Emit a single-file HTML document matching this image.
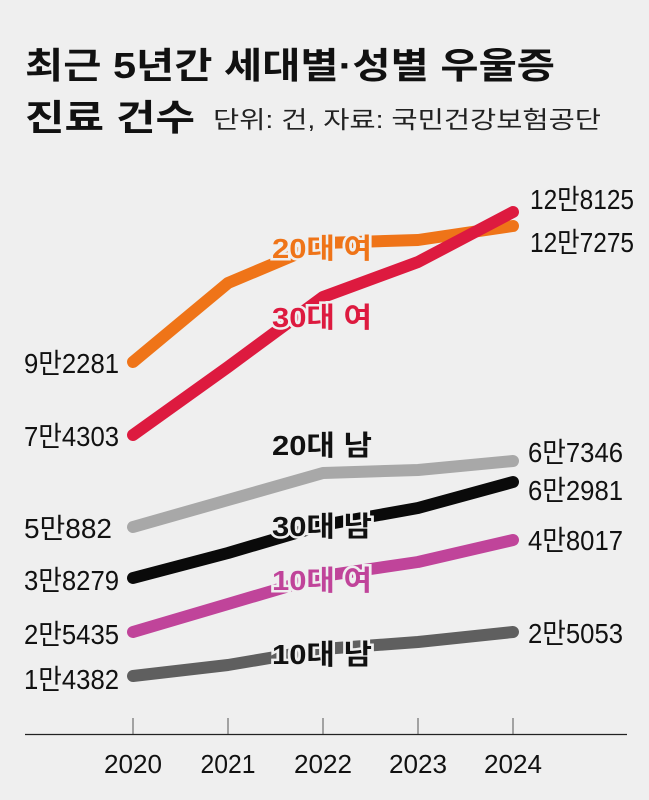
<!DOCTYPE html><html><head><meta charset="utf-8"><style>
body{margin:0;background:#efefef;}
svg{display:block}
text{font-family:"Liberation Sans","Noto Sans CJK KR",sans-serif;}
</style></head><body>
<svg width="649" height="800" viewBox="0 0 649 800">
<rect width="649" height="800" fill="#efefef"/>
<text x="25" y="78" font-size="36" font-weight="bold" fill="#111" textLength="530" lengthAdjust="spacingAndGlyphs">최근 5년간 세대별·성별 우울증</text>
<text x="25" y="130" font-size="36" font-weight="bold" fill="#111" textLength="170" lengthAdjust="spacingAndGlyphs">진료 건수</text>
<text x="213" y="128" font-size="24" fill="#222" textLength="388" lengthAdjust="spacingAndGlyphs">단위: 건, 자료: 국민건강보험공단</text>
<g fill="none" stroke-width="12" stroke-linecap="round" stroke-linejoin="round">
<polyline stroke="#ef7418" points="133,362 228,283 323,243 418,240 513,226"/>
<polyline stroke="#dd1a3f" points="133,435 228,367 323,297 418,262 513,212"/>
<polyline stroke="#a8a8a8" points="133,527 228,500 323,473 418,470 513,461"/>
<polyline stroke="#0a0a0a" points="133,578 228,553 323,525 418,508 513,482"/>
<polyline stroke="#c0449a" points="133,632 228,604 323,576 418,562 513,540"/>
<polyline stroke="#5f5f5f" points="133,676 228,665 323,649 418,642 513,632"/>
</g>
<g font-size="28" stroke="#efefef" stroke-width="5" paint-order="stroke" font-weight="bold">
<text x="272" y="258" fill="#ef7418" textLength="100" lengthAdjust="spacingAndGlyphs">20대 여</text>
<text x="272" y="327" fill="#dd1a3f" textLength="100" lengthAdjust="spacingAndGlyphs">30대 여</text>
<text x="272" y="455" fill="#111" textLength="100" lengthAdjust="spacingAndGlyphs">20대 남</text>
<text x="272" y="536" fill="#111" textLength="100" lengthAdjust="spacingAndGlyphs">30대 남</text>
<text x="272" y="590" fill="#c0449a" textLength="100" lengthAdjust="spacingAndGlyphs">10대 여</text>
<text x="272" y="664" fill="#111" textLength="100" lengthAdjust="spacingAndGlyphs">10대 남</text>
</g>
<g font-size="28" fill="#111">
<text x="24" y="373" textLength="95" lengthAdjust="spacingAndGlyphs">9만2281</text>
<text x="24" y="446" textLength="95" lengthAdjust="spacingAndGlyphs">7만4303</text>
<text x="24" y="538" textLength="88" lengthAdjust="spacingAndGlyphs">5만882</text>
<text x="24" y="590" textLength="95" lengthAdjust="spacingAndGlyphs">3만8279</text>
<text x="24" y="644" textLength="95" lengthAdjust="spacingAndGlyphs">2만5435</text>
<text x="24" y="689" textLength="95" lengthAdjust="spacingAndGlyphs">1만4382</text>
<text x="530" y="209" textLength="104" lengthAdjust="spacingAndGlyphs">12만8125</text>
<text x="530" y="252" textLength="104" lengthAdjust="spacingAndGlyphs">12만7275</text>
<text x="528" y="462" textLength="95" lengthAdjust="spacingAndGlyphs">6만7346</text>
<text x="528" y="500" textLength="95" lengthAdjust="spacingAndGlyphs">6만2981</text>
<text x="528" y="550" textLength="95" lengthAdjust="spacingAndGlyphs">4만8017</text>
<text x="528" y="643" textLength="95" lengthAdjust="spacingAndGlyphs">2만5053</text>
</g>
<line x1="25" y1="734.5" x2="627" y2="734.5" stroke="#222" stroke-width="1.2"/>
<g stroke="#555" stroke-width="1">
<line x1="133" y1="718" x2="133" y2="734"/><line x1="228" y1="718" x2="228" y2="734"/><line x1="323" y1="718" x2="323" y2="734"/><line x1="418" y1="718" x2="418" y2="734"/><line x1="513" y1="718" x2="513" y2="734"/>
</g>
<g font-size="26" fill="#111" text-anchor="middle">
<text x="133" y="773" textLength="58" lengthAdjust="spacingAndGlyphs">2020</text>
<text x="228" y="773" textLength="55" lengthAdjust="spacingAndGlyphs">2021</text>
<text x="323" y="773" textLength="58" lengthAdjust="spacingAndGlyphs">2022</text>
<text x="418" y="773" textLength="58" lengthAdjust="spacingAndGlyphs">2023</text>
<text x="513" y="773" textLength="58" lengthAdjust="spacingAndGlyphs">2024</text>
</g>
</svg>
</body></html>
